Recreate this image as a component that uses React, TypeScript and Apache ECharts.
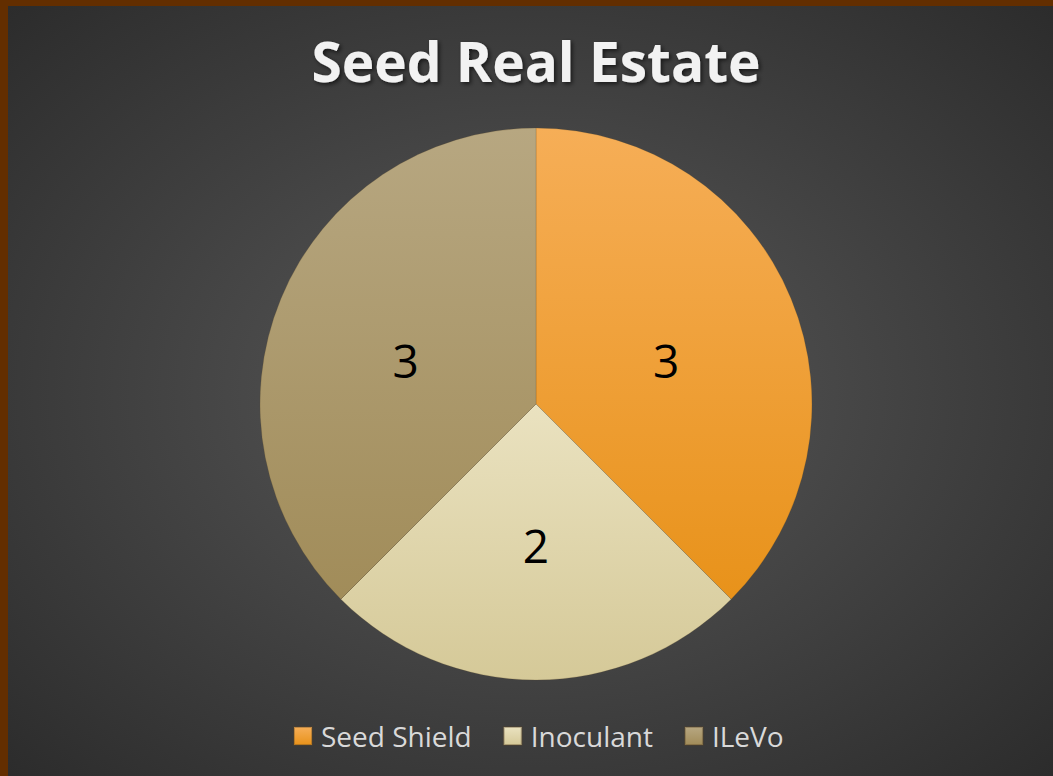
import React, { useEffect, useRef } from 'react';
import * as echarts from 'echarts';

const titleText = 'Seed Real Estate';
const categories = ['Seed Shield', 'Inoculant', 'ILeVo'];
const values = [3, 2, 3];

const paletteTop = ['#F6AE57', '#EAE2C0', '#B7A781'];
const paletteBottom = ['#E8921A', '#D5C998', '#A18C59'];
const labelShift = [[0, 10], [0, 0], [0, 10]];

export default function App() {
  const ref = useRef<HTMLDivElement>(null);
  useEffect(() => {
    if (!ref.current) return;
    const chart = echarts.init(ref.current, null, { renderer: 'svg' });
    const data = categories.map((name, i) => ({
      name,
      value: values[i],
      itemStyle: {
        color: new echarts.graphic.LinearGradient(0, 0, 0, 1, [
          { offset: 0, color: paletteTop[i] },
          { offset: 1, color: paletteBottom[i] },
        ]),
      },
      label: { offset: labelShift[i] },
    }));
    chart.setOption({
      animation: false,
      backgroundColor: 'transparent',
      title: {
        text: titleText,
        left: 523,
        textAlign: 'center',
        top: 22,
        textStyle: {
          fontFamily: 'Open Sans',
          fontWeight: 'bold',
          fontSize: 55,
          color: '#f2f2f2',
          textShadowColor: 'rgba(0,0,0,0.6)',
          textShadowBlur: 4,
          textShadowOffsetX: 2,
          textShadowOffsetY: 2,
        },
      },
      legend: {
        data: categories,
        bottom: 26,
        left: 285,
        icon: 'rect',
        itemWidth: 18,
        itemHeight: 18,
        itemGap: 31,
        padding: 0,
        textStyle: { fontFamily: 'Open Sans', fontSize: 28, color: '#d9d9d9', padding: [0, 0, 0, 4] },
      },
      series: [
        {
          type: 'pie',
          center: [528, 398],
          radius: 276,
          startAngle: 90,
          clockwise: true,
          data,
          itemStyle: { borderColor: 'rgba(90,70,40,0.35)', borderWidth: 0.6 },
          label: {
            show: true,
            position: 'inside',
            formatter: '{c}',
            color: '#000',
            fontFamily: 'Open Sans',
            fontSize: 46,
          },
          labelLine: { show: false },
          emphasis: { disabled: true },
        },
      ],
    });
    return () => chart.dispose();
  }, []);
  return (
    <div
      style={{
        position: 'absolute',
        left: 0,
        top: 0,
        width: 1053,
        height: 776,
        boxSizing: 'border-box',
        borderLeft: '8px solid #632E00',
        borderTop: '6px solid #632E00',
        overflow: 'hidden',
      }}
    >
      <div
        ref={ref}
        style={{
          width: 1045,
          height: 770,
          background: 'radial-gradient(ellipse 75% 75% at 50% 50%, #5a5a5a 0%, #292929 100%)',
        }}
      />
    </div>
  );
}
